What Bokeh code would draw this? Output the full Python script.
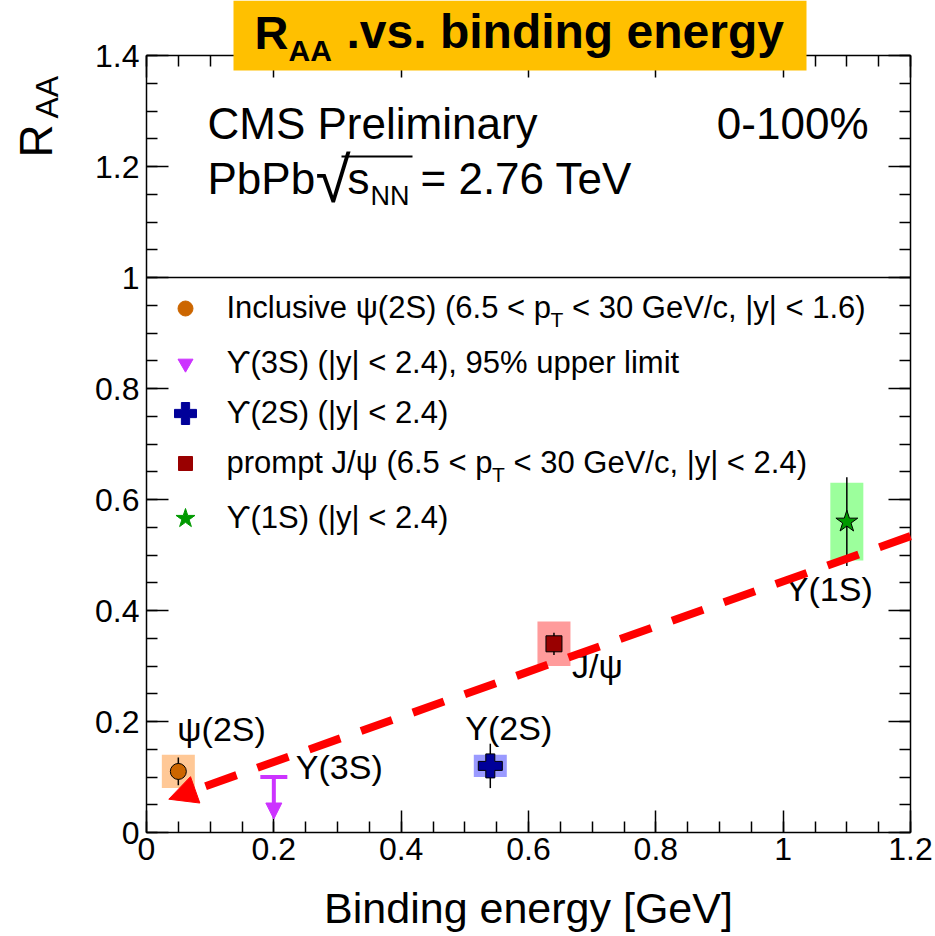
import math
from bokeh.plotting import figure
from bokeh.models import (Range1d, LinearAxis, Label, BoxAnnotation, Arrow,
                          NormalHead, FixedTicker, CustomJSTickFormatter)
from bokeh.core.properties import value
from bokeh.embed import file_html
from bokeh.resources import INLINE

# ---------------- data ----------------
states = ["ψ(2S)", "J/ψ", "Υ(2S)", "Υ(1S)"]
binding_energy = [0.05, 0.64, 0.54, 1.10]
raa = [0.11, 0.34, 0.12, 0.56]
stat_err = [0.025, 0.02, 0.04, 0.08]
syst_err = [0.03, 0.04, 0.02, 0.07]

ul_state = "Υ(3S)"
ul_binding_energy = [0.20]
ul_raa = [0.10]

trend_x = [1.20, 0.035]
trend_y = [0.534, 0.060]

unity_x = [0.0, 1.2]
unity_y = [1.0, 1.0]

legend_labels = [
    "Inclusive ψ(2S) (6.5 < p_T < 30 GeV/c, |y| < 1.6)",
    "ϒ(3S) (|y| < 2.4), 95% upper limit",
    "ϒ(2S) (|y| < 2.4)",
    "prompt J/ψ (6.5 < p_T < 30 GeV/c, |y| < 2.4)",
    "ϒ(1S) (|y| < 2.4)",
]

x_ticks = [0.0, 0.2, 0.4, 0.6, 0.8, 1.0, 1.2]
x_tick_labels = ["0", "0.2", "0.4", "0.6", "0.8", "1", "1.2"]
y_ticks = [0.0, 0.2, 0.4, 0.6, 0.8, 1.0, 1.2, 1.4]
y_tick_labels = ["0", "0.2", "0.4", "0.6", "0.8", "1", "1.2", "1.4"]
x_bounds = (0.0, 1.2)
y_bounds = (0.0, 1.4)

# ---------------- styles ----------------
marker_types = ["circle", "square", "plus", "star"]
marker_colors = ["#CC6600", "#990000", "#000099", "#009900"]
marker_sizes = [16, 16, 24, 23]
box_colors = ["#FFC896", "#FF9B9B", "#9A9AFF", "#9CFF9C"]
ul_color = "#CC33FF"
lab_dx = [-1, 18, -25, -61]
lab_dy = [-42, 22, -38, 67]
ul_lab_dx, ul_lab_dy = 22, -10

legend_markers = ["circle", "inverted_triangle", "plus", "square", "star"]
legend_colors = ["#CC6600", "#CC33FF", "#000099", "#990000", "#009900"]
legend_sizes = [15, 15, 22, 14, 20]
legend_rows_px = [308, 363, 413, 463, 518]

FONT = "Liberation Sans"
W, H = 935, 936
L, R, T, B = 146, 910, 55, 832          # ROOT frame position on the canvas
PXX = (R - L) / (x_bounds[1] - x_bounds[0])
PXY = (B - T) / (y_bounds[1] - y_bounds[0])
XMIN = x_bounds[0] - L / PXX
XMAX = x_bounds[1] + (W - R) / PXX
YMIN = y_bounds[0] - (H - B) / PXY
YMAX = y_bounds[1] + T / PXY
KBASE = 0.39   # observed shift of Label alphabetic baseline (fraction of font size)


def dx(X):
    return XMIN + X / PXX


def dy(Y):
    return YMAX - Y / PXY


ARIAL = {' ': 278, '!': 278, '(': 333, ')': 333, ',': 278, '-': 333, '.': 278, '/': 278,
         '<': 584, '=': 584, '>': 584, '%': 889, '|': 260, '[': 278, ']': 278,
         'A': 667, 'B': 667, 'C': 722, 'D': 722, 'E': 667, 'F': 611, 'G': 778, 'H': 722,
         'I': 278, 'J': 500, 'K': 667, 'L': 556, 'M': 833, 'N': 722, 'O': 778, 'P': 667,
         'Q': 778, 'R': 722, 'S': 667, 'T': 611, 'U': 722, 'V': 667, 'W': 944, 'X': 667,
         'Y': 667, 'Z': 611, 'a': 556, 'b': 556, 'c': 500, 'd': 556, 'e': 556, 'f': 278,
         'g': 556, 'h': 556, 'i': 222, 'j': 222, 'k': 500, 'l': 222, 'm': 833, 'n': 556,
         'o': 556, 'p': 556, 'q': 556, 'r': 333, 's': 500, 't': 278, 'u': 556, 'v': 500,
         'w': 722, 'x': 500, 'y': 500, 'z': 500, 'ψ': 700, 'ϒ': 667, 'Υ': 667}


def tw(s, size):
    return sum(ARIAL.get(c, 556) for c in s) / 1000.0 * size


p = figure(width=W, height=H, x_range=Range1d(XMIN, XMAX), y_range=Range1d(YMIN, YMAX),
           output_backend="svg", toolbar_location=None, min_border=0,
           min_border_left=0, min_border_right=0, min_border_top=0, min_border_bottom=0)
p.grid.visible = False
p.background_fill_color = "white"
p.border_fill_color = "white"
p.outline_line_color = None

xt = FixedTicker(ticks=x_ticks, minor_ticks=[i * 0.05 for i in range(25)])
yt = FixedTicker(ticks=y_ticks, minor_ticks=[i * 0.05 for i in range(29)])
fmt = CustomJSTickFormatter(code="return (Math.round(tick*10)/10).toString();")


def style_axis(ax, ticker, labels, bounds, loc, show):
    ax.ticker = ticker
    ax.formatter = fmt
    ax.bounds = bounds
    ax.fixed_location = loc
    ax.major_tick_in = 22
    ax.major_tick_out = 0
    ax.minor_tick_in = 11
    ax.minor_tick_out = 0
    ax.axis_line_color = "black"
    ax.axis_line_width = 1.5
    ax.major_tick_line_color = "black"
    ax.major_tick_line_width = 1.5
    ax.minor_tick_line_color = "black"
    ax.minor_tick_line_width = 1.5
    ax.major_label_text_font = FONT
    ax.axis_label = None
    if show:
        ax.major_label_text_color = "black"
        ax.major_label_text_font_size = "32px"
        ax.major_label_overrides = dict(zip(ticker.ticks, labels))
    else:
        ax.major_label_text_color = None


style_axis(p.xaxis[0], xt, x_tick_labels, x_bounds, y_bounds[0], True)
style_axis(p.yaxis[0], yt, y_tick_labels, y_bounds, x_bounds[0], True)
p.xaxis[0].major_label_standoff = 5
p.yaxis[0].major_label_standoff = 7
top_ax = LinearAxis()
style_axis(top_ax, xt, x_tick_labels, x_bounds, y_bounds[1], False)
p.add_layout(top_ax, "above")
right_ax = LinearAxis()
style_axis(right_ax, yt, y_tick_labels, y_bounds, x_bounds[1], False)
p.add_layout(right_ax, "right")

# RAA = 1 reference line
p.line(x=unity_x, y=unity_y, line_color="black", line_width=1.5)

# systematic boxes
syst_h = [2 * s for s in syst_err]
p.rect(x=binding_energy, y=raa, width=33, height=syst_h, width_units="screen",
       fill_color=box_colors, line_color=None)
# stat errors
p.segment(x0=binding_energy, y0=[v - e for v, e in zip(raa, stat_err)],
          x1=binding_energy, y1=[v + e for v, e in zip(raa, stat_err)],
          line_color="black", line_width=1.5)
# markers
for i in range(len(states)):
    p.scatter(x=[binding_energy[i]], y=[raa[i]], marker=marker_types[i], size=marker_sizes[i],
              fill_color=marker_colors[i], line_color="black", line_width=1)

# upper limit
p.scatter(x=ul_binding_energy, y=ul_raa, marker="dash", size=27, line_color=ul_color, line_width=4)
ul_len = 42 / PXY
p.add_layout(Arrow(end=NormalHead(size=16, fill_color=ul_color, line_color=ul_color),
                   x_start=ul_binding_energy[0], y_start=ul_raa[0],
                   x_end=ul_binding_energy[0], y_end=ul_raa[0] - ul_len,
                   line_color=ul_color, line_width=4))

# state labels
p.text(x=binding_energy, y=raa, text=states, x_offset=lab_dx, y_offset=lab_dy,
       text_font=value(FONT), text_font_size="34px", text_baseline="middle",
       text_align="left", text_color="black")
p.text(x=ul_binding_energy, y=ul_raa, text=[ul_state], x_offset=ul_lab_dx, y_offset=ul_lab_dy,
       text_font=value(FONT), text_font_size="34px", text_baseline="middle",
       text_align="left", text_color="black")

# trend arrow
p.add_layout(Arrow(end=NormalHead(size=28, fill_color="#FF0000", line_color="#FF0000"),
                   x_start=trend_x[0], y_start=trend_y[0], x_end=trend_x[1], y_end=trend_y[1],
                   line_color="#FF0000", line_width=8, line_dash="33 22", line_cap="butt"))


def lab(X, Y, text, size, align="left", style="normal", angle=0.0, font=FONT):
    if angle == 0.0:
        Y = Y - KBASE * size
    else:
        X = X - KBASE * size
    p.add_layout(Label(x=dx(X), y=dy(Y), text=text, text_font=font, text_font_size=f"{size}px",
                       text_align=align, text_baseline="alphabetic", text_font_style=style,
                       text_color="black", angle=angle))


# legend
LEG_FS = 31
for i, entry in enumerate(legend_labels):
    yrow = legend_rows_px[i]
    p.scatter(x=[dx(185)], y=[dy(yrow)], marker=legend_markers[i], size=legend_sizes[i],
              fill_color=legend_colors[i], line_color=legend_colors[i])
    parts = entry.split("_T")
    xpos = 226
    base = yrow + 11
    for j, part in enumerate(parts):
        stripped = part.lstrip(" ")
        xpos += tw(part[:len(part) - len(stripped)], LEG_FS)
        lab(xpos, base, stripped, LEG_FS)
        xpos += tw(stripped, LEG_FS)
        if j < len(parts) - 1:
            lab(xpos, base + 8, "T", 21)
            xpos += tw("T", 21)

# header texts
lab(207, 140, "CMS Preliminary", 44)
lab(868, 140, "0-100%", 44, align="right")
lab(207, 195, "PbPb", 44)
lab(315, 204, "√", 64)
lab(347, 195, "s", 44)
lab(370, 206, "NN", 27)
lab(420, 195, "= 2.76 TeV", 44)
p.line(x=[dx(341), dx(412)], y=[dy(156), dy(156)], line_color="black", line_width=2)

# title box
p.add_layout(BoxAnnotation(left=dx(233), right=dx(806), top=dy(0), bottom=dy(70),
                           fill_color="#FFC000", fill_alpha=1, line_color=None))
lab(254, 50, "R", 47, style="bold")
lab(288, 62, "AA", 30, style="bold")
lab(346, 50, ".vs. binding energy", 48, style="bold")

# axis titles
lab(528, 924, "Binding energy [GeV]", 43, align="center")
lab(53, 157, "R", 46, angle=math.pi / 2)
lab(59, 118, "AA", 32, angle=math.pi / 2)

open("out.html", "w").write(file_html(p, INLINE))
